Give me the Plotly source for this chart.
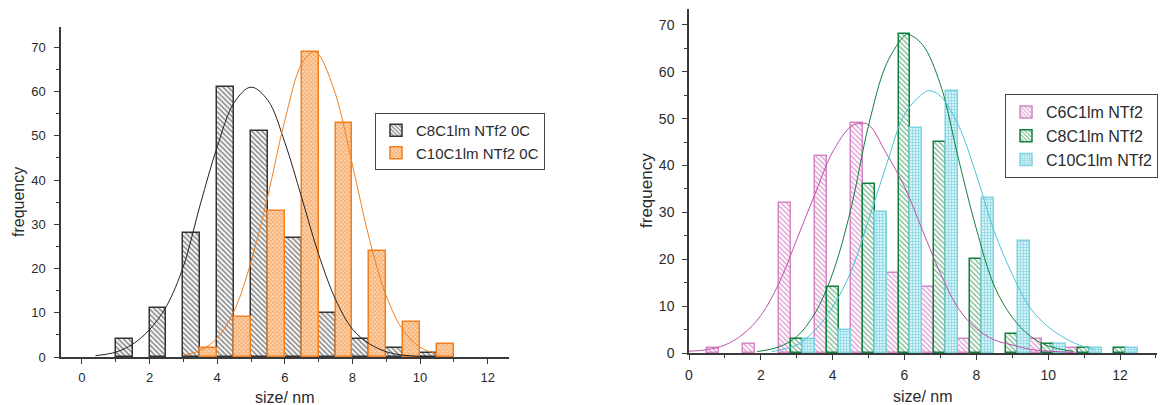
import plotly.graph_objects as go

# ---------------- Left panel (0C) ----------------
left_c8_size = [1.25, 2.25, 3.25, 4.25, 5.25, 6.25, 7.25, 8.25, 9.25, 10.25]
left_c8_count = [4, 11, 28, 61, 51, 27, 10, 4, 2, 1]
left_c10_size = [3.75, 4.75, 5.75, 6.75, 7.75, 8.75, 9.75, 10.75]
left_c10_count = [2, 9, 33, 69, 53, 24, 8, 3]

# fitted curves
left_c8_fit_x = [0.4, 1.0, 1.5, 2.0, 2.5, 3.0, 3.5, 4.0, 4.5, 5.0, 5.5, 6.0, 6.5,
                 7.0, 7.5, 8.0, 8.5, 9.0, 9.5, 10.0, 10.4]
left_c8_fit_y = [0.3, 1.1, 2.9, 6.2, 11.5, 20.5, 34.5, 47.5, 57.5, 61.0, 58.0, 48.5,
                 36.0, 23.2, 13.0, 6.3, 3.0, 1.2, 0.4, 0.15, 0.05]
left_c10_fit_x = [3.0, 3.5, 4.0, 4.5, 5.0, 5.5, 6.0, 6.5, 6.85, 7.0, 7.5, 8.0, 8.5,
                  9.0, 9.5, 10.0, 10.5]
left_c10_fit_y = [0.4, 1.5, 4.3, 10.4, 21.5, 36.5, 53.5, 66.3, 69.0, 68.4, 59.4, 43.4,
                  26.7, 13.8, 6.0, 2.2, 0.7]

# ---------------- Right panel ----------------
right_c6_size = [0.667, 1.667, 2.667, 3.667, 4.667, 5.667, 6.667, 7.667, 9.667, 10.667]
right_c6_count = [1, 2, 32, 42, 49, 17, 14, 3, 3, 1]
right_c8_size = [3, 4, 5, 6, 7, 8, 9, 10, 11, 12]
right_c8_count = [3, 14, 36, 68, 45, 20, 4, 2, 1, 1]
right_c10_size = [3.333, 4.333, 5.333, 6.333, 7.333, 8.333, 9.333, 10.333, 11.333, 12.333]
right_c10_count = [3, 5, 30, 48, 56, 33, 24, 2, 1, 1]

right_c6_fit_x = [0.0, 0.5, 1.0, 1.5, 2.0, 2.5, 3.0, 3.5, 4.0, 4.5, 4.75, 5.0, 5.5, 6.0,
                  6.5, 7.0, 7.5, 8.0, 8.5, 9.0, 9.5, 10.0, 10.7]
right_c6_fit_y = [0.4, 0.7, 1.7, 4.0, 8.0, 14.8, 24.2, 33.8, 42.9, 48.3, 49.0, 48.7,
                  42.5, 35.5, 26.2, 17.0, 9.5, 5.2, 2.8, 1.7, 0.8, 0.4, 0.15]
right_c8_fit_x = [1.9, 2.5, 3.0, 3.5, 4.0, 4.5, 5.0, 5.5, 6.0, 6.1, 6.5, 7.0, 7.5, 8.0,
                  8.5, 9.0, 9.5, 10.0, 10.5, 10.7]
right_c8_fit_y = [0.3, 1.3, 3.5, 8.4, 17.0, 30.5, 48.6, 61.7, 67.7, 68.0, 65.8, 57.3,
                  41.5, 26.5, 14.3, 7.6, 3.6, 1.5, 0.6, 0.4]
right_c10_fit_x = [2.3, 2.5, 3.0, 3.5, 4.0, 4.5, 5.0, 5.5, 6.0, 6.5, 6.7, 7.0, 7.5, 8.0,
                   8.5, 9.0, 9.5, 10.0, 10.5, 11.0, 11.3]
right_c10_fit_y = [0.3, 0.6, 1.7, 4.8, 9.8, 17.2, 28.4, 40.2, 50.9, 55.3, 56.0, 54.8,
                   48.6, 38.0, 25.9, 16.8, 9.6, 5.6, 3.0, 1.3, 0.7]

FONT = "Liberation Sans, Arial, sans-serif"
TXT = "#2b2b2b"
AX = "#3a3a3a"
BLACK = "#222222"
ORANGE = "#f47f1f"
MAGENTA = "#c24fa8"
GREEN = "#10803c"
CYAN = "#4cc4d6"

fig = go.Figure()


def bars(x, y, width, fg, bg, line_color, shape, size, solidity, name, xa, ya, legend):
    return go.Bar(
        x=x, y=y, width=width, name=name, xaxis=xa, yaxis=ya, legend=legend,
        marker=dict(
            color=bg,
            line=dict(color=line_color, width=1.5),
            pattern=dict(shape=shape, fgcolor=fg, bgcolor=bg,
                         size=size, solidity=solidity, fillmode="overlay"),
        ),
        hoverinfo="x+y",
    )


fig.add_trace(bars(left_c8_size, left_c8_count, 0.5, BLACK, "white", "#333333", "\\", 3.6, 0.48,
                   "C8C1lm NTf2 0C", "x", "y", "legend"))
fig.add_trace(bars(left_c10_size, left_c10_count, 0.5, ORANGE, "#fcd9b8", ORANGE, "x", 3, 0.55,
                   "C10C1lm NTf2 0C", "x", "y", "legend"))
fig.add_trace(go.Scatter(x=left_c8_fit_x, y=left_c8_fit_y, mode="lines", line_shape="spline",
                         line=dict(color=BLACK, width=1), showlegend=False, xaxis="x", yaxis="y"))
fig.add_trace(go.Scatter(x=left_c10_fit_x, y=left_c10_fit_y, mode="lines", line_shape="spline",
                         line=dict(color=ORANGE, width=1), showlegend=False, xaxis="x", yaxis="y"))

fig.add_trace(bars(right_c6_size, right_c6_count, 1 / 3, MAGENTA, "white", "#d487c6", "\\", 3.6, 0.42,
                   "C6C1lm NTf2", "x2", "y2", "legend2"))
fig.add_trace(bars(right_c8_size, right_c8_count, 1 / 3, GREEN, "white", GREEN, "\\", 3.6, 0.42,
                   "C8C1lm NTf2", "x2", "y2", "legend2"))
fig.add_trace(bars(right_c10_size, right_c10_count, 1 / 3, CYAN, "#d9f2f6", "#7fd3e1", "+", 3, 0.5,
                   "C10C1lm NTf2", "x2", "y2", "legend2"))
fig.add_trace(go.Scatter(x=right_c6_fit_x, y=right_c6_fit_y, mode="lines", line_shape="spline",
                         line=dict(color=MAGENTA, width=1), showlegend=False, xaxis="x2", yaxis="y2"))
fig.add_trace(go.Scatter(x=right_c8_fit_x, y=right_c8_fit_y, mode="lines", line_shape="spline",
                         line=dict(color=GREEN, width=1), showlegend=False, xaxis="x2", yaxis="y2"))
fig.add_trace(go.Scatter(x=right_c10_fit_x, y=right_c10_fit_y, mode="lines", line_shape="spline",
                         line=dict(color=CYAN, width=1), showlegend=False, xaxis="x2", yaxis="y2"))

W, H = 1169, 405


def xaxis(dom, rng, anchor, size):
    return dict(domain=dom, range=rng, anchor=anchor, showgrid=False, zeroline=False,
                showline=True, linecolor=AX, linewidth=1.5, ticks="outside", ticklen=5,
                tickwidth=1.2, tickcolor=AX, tick0=0, dtick=2, ticklabelstandoff=3,
                automargin=False,
                minor=dict(dtick=1, ticks="outside", ticklen=3, tickwidth=1.2, tickcolor=AX),
                tickfont=dict(family=FONT, size=size, color=TXT), fixedrange=True)


def yaxis(dom, rng, anchor, size, standoff):
    return dict(domain=dom, range=rng, anchor=anchor, showgrid=False, zeroline=False,
                showline=True, linecolor=AX, linewidth=1.5, ticks="outside", ticklen=5,
                tickwidth=1.2, tickcolor=AX, tick0=0, dtick=10, ticklabelstandoff=standoff,
                automargin=False,
                minor=dict(dtick=5, ticks="outside", ticklen=3, tickwidth=1.2, tickcolor=AX),
                tickfont=dict(family=FONT, size=size, color=TXT), fixedrange=True)


fig.update_layout(
    width=W, height=H, margin=dict(l=0, r=0, t=0, b=0, pad=0),
    paper_bgcolor="white", plot_bgcolor="white",
    barmode="overlay", bargap=0,
    xaxis=xaxis([61 / W, 509 / W], [-0.62, 12.63], "y", 13),
    yaxis=yaxis([1 - 357 / H, 1 - 27 / H], [0, 74.6], "x", 13, 6),
    xaxis2=xaxis([689 / W, 1157 / W], [0, 13.03], "y2", 14),
    yaxis2=yaxis([1 - 353 / H, 1 - 9 / H], [0, 73.4], "x2", 14, 5),
    legend=dict(x=375 / W, y=1 - 113 / H, xanchor="left", yanchor="top",
                bgcolor="white", bordercolor="#444", borderwidth=1,
                font=dict(family=FONT, size=15, color=TXT), tracegroupgap=0),
    legend2=dict(x=1005 / W, y=1 - 94 / H, xanchor="left", yanchor="top",
                 bgcolor="white", bordercolor="#444", borderwidth=1,
                 font=dict(family=FONT, size=16, color=TXT), tracegroupgap=0),
    showlegend=True,
    annotations=[
        dict(text="frequency", x=18 / W, y=1 - 202 / H, xref="paper", yref="paper",
             xanchor="center", yanchor="middle",
             textangle=-90, showarrow=False, font=dict(family=FONT, size=16, color=TXT)),
        dict(text="size/ nm", x=285 / W, y=1 - 397 / H, xref="paper", yref="paper",
             xanchor="center", yanchor="middle",
             showarrow=False, font=dict(family=FONT, size=16, color=TXT)),
        dict(text="frequency", x=646 / W, y=1 - 191 / H, xref="paper", yref="paper",
             xanchor="center", yanchor="middle",
             textangle=-90, showarrow=False, font=dict(family=FONT, size=17, color=TXT)),
        dict(text="size/ nm", x=923 / W, y=1 - 396 / H, xref="paper", yref="paper",
             xanchor="center", yanchor="middle",
             showarrow=False, font=dict(family=FONT, size=16, color=TXT)),
    ],
)

fig.write_html("out.html", config={"displayModeBar": False},
               post_script="document.body.style.margin='0';")
